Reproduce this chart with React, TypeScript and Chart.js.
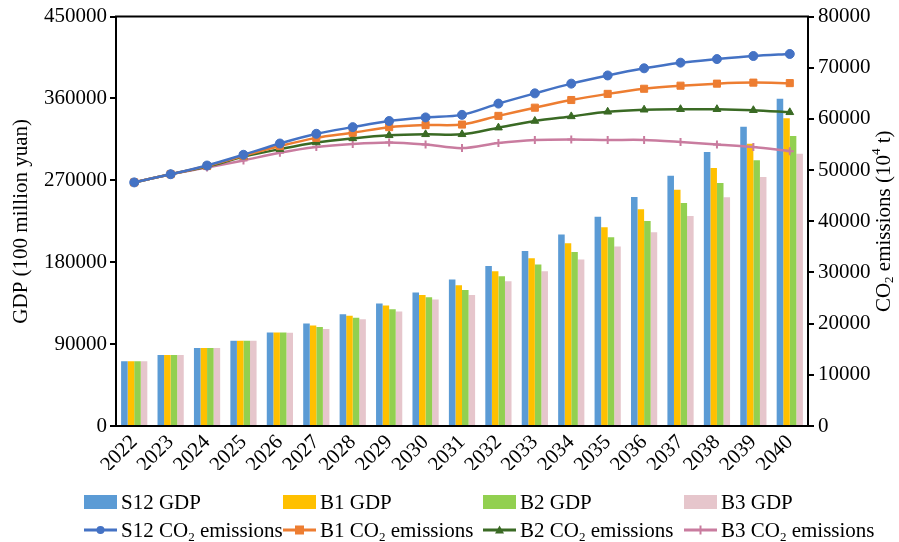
import React, { useEffect, useRef } from "react";
import { Chart, registerables } from "chart.js";

Chart.register(...registerables);

const years = [
  "2022", "2023", "2024", "2025", "2026", "2027", "2028", "2029", "2030", "2031",
  "2032", "2033", "2034", "2035", "2036", "2037", "2038", "2039", "2040",
];

// GDP (100 million yuan)
const gdpS12 = [71300, 78000, 85600, 93600, 102800, 112700, 122900, 134600, 146700, 161000, 176000, 192400, 210400, 230100, 251700, 275100, 301100, 328900, 359600];
const gdpB1 = [71300, 78000, 85600, 93600, 102800, 110500, 121100, 132400, 144100, 154800, 170100, 184400, 200900, 218400, 238200, 259800, 283500, 310300, 338400];
const gdpB2 = [71300, 78000, 85600, 93600, 102800, 108700, 118900, 128400, 141600, 149600, 164600, 177400, 191300, 207400, 225400, 245100, 267100, 292000, 318700];
const gdpB3 = [71300, 78000, 85600, 93600, 102600, 106500, 117400, 125800, 139000, 144100, 159100, 170100, 182900, 197200, 212900, 230900, 251300, 273700, 299300];

// CO2 emissions (10^4 t)
const co2S12 = [47600, 49200, 50900, 53000, 55200, 57100, 58400, 59600, 60300, 60800, 63000, 65000, 66900, 68500, 69900, 71000, 71700, 72300, 72700];
const co2B1 = [47600, 49200, 50800, 52800, 54700, 56300, 57300, 58400, 58800, 58900, 60600, 62200, 63700, 64900, 65900, 66500, 66900, 67100, 67000];
const co2B2 = [47600, 49200, 50700, 52600, 54100, 55400, 56200, 56800, 57000, 57000, 58300, 59600, 60500, 61400, 61800, 61900, 61900, 61700, 61300];
const co2B3 = [47600, 49200, 50500, 51900, 53400, 54500, 55100, 55400, 55000, 54300, 55300, 55900, 56000, 55900, 55900, 55500, 55000, 54500, 53700];

const gdpTicks = [0, 90000, 180000, 270000, 360000, 450000];
const co2Ticks = [0, 10000, 20000, 30000, 40000, 50000, 60000, 70000, 80000];

const FONT = "'Liberation Serif', 'Times New Roman', serif";

const BAR_COLORS = ["#5B9BD5", "#FFC000", "#92D050", "#E6C6CC"];
const LINE_COLORS = ["#4472C4", "#ED7D31", "#3A6A24", "#C97C9F"];

// Closes the frame along the top of the plot and writes the right-hand axis title.
const framePlugin = {
  id: "frame",
  afterDraw(chart: any) {
    const { ctx, chartArea } = chart;
    ctx.save();
    ctx.strokeStyle = "#000";
    ctx.lineWidth = 2;
    ctx.beginPath();
    ctx.moveTo(chartArea.left - 1, chartArea.top);
    ctx.lineTo(chartArea.right + 1, chartArea.top);
    ctx.stroke();

    // "CO2 emissions (10^4 t)" rotated, read from bottom to top
    const cx = 884;
    const cy = (chartArea.top + chartArea.bottom) / 2;
    ctx.translate(cx, cy);
    ctx.rotate(-Math.PI / 2);
    ctx.fillStyle = "#000";
    ctx.textBaseline = "middle";
    const big = `21px ${FONT}`;
    const small = `13px ${FONT}`;
    const parts: [string, string, number][] = [
      ["CO", big, 0],
      ["2", small, 6],
      [" emissions (10", big, 0],
      ["4", small, -7],
      [" t)", big, 0],
    ];
    let total = 0;
    for (const [t, f] of parts) {
      ctx.font = f;
      total += ctx.measureText(t).width;
    }
    let x = -total / 2;
    for (const [t, f, dy] of parts) {
      ctx.font = f;
      ctx.fillText(t, x, dy);
      x += ctx.measureText(t).width;
    }
    ctx.restore();
  },
};

function LegendSwatch({ kind, color }: { kind: string; color: string }) {
  if (kind === "bar") {
    return (
      <svg width="33" height="14" style={{ display: "block" }}>
        <rect x="0" y="0" width="33" height="14" fill={color} />
      </svg>
    );
  }
  let marker: React.ReactNode = null;
  if (kind === "circle") marker = <circle cx="16.5" cy="7" r="4" fill={color} />;
  if (kind === "rect") marker = <rect x="12" y="2.5" width="9" height="9" fill={color} />;
  if (kind === "triangle") marker = <polygon points="16.5,2.5 21,10.5 12,10.5" fill={color} />;
  if (kind === "cross")
    marker = (
      <g stroke={color} strokeWidth="2">
        <line x1="16.5" y1="2.5" x2="16.5" y2="11.5" />
      </g>
    );
  return (
    <svg width="33" height="14" style={{ display: "block" }}>
      <line x1="0" y1="7" x2="33" y2="7" stroke={color} strokeWidth="3" />
      {marker}
    </svg>
  );
}

const barLegend = [
  { name: "S12", color: BAR_COLORS[0] },
  { name: "B1", color: BAR_COLORS[1] },
  { name: "B2", color: BAR_COLORS[2] },
  { name: "B3", color: BAR_COLORS[3] },
];
const lineLegend = [
  { name: "S12", color: LINE_COLORS[0], kind: "circle" },
  { name: "B1", color: LINE_COLORS[1], kind: "rect" },
  { name: "B2", color: LINE_COLORS[2], kind: "triangle" },
  { name: "B3", color: LINE_COLORS[3], kind: "cross" },
];

const plain = (v: any) => String(v);

export default function App() {
  const canvasRef = useRef<HTMLCanvasElement | null>(null);

  useEffect(() => {
    const canvas = canvasRef.current;
    if (!canvas) return;

    const barSet = (label: string, data: number[], color: string) => ({
      type: "bar" as const,
      label,
      data,
      backgroundColor: color,
      borderWidth: 0,
      yAxisID: "y",
      order: 2,
      categoryPercentage: 0.72,
      barPercentage: 1.0,
    });
    const lineSet = (label: string, data: number[], color: string, style: string, radius: number) => ({
      type: "line" as const,
      label,
      data,
      borderColor: color,
      backgroundColor: color,
      borderWidth: 2.5,
      pointStyle: style,
      pointRadius: radius,
      pointBorderWidth: style === "cross" ? 2 : 1,
      pointBorderColor: color,
      pointBackgroundColor: color,
      tension: 0.3,
      fill: false,
      yAxisID: "y1",
      order: 1,
    });

    const chart = new Chart(canvas, {
      type: "bar",
      data: {
        labels: years,
        datasets: [
          lineSet("S12 CO₂ emissions", co2S12, LINE_COLORS[0], "circle", 4.5),
          lineSet("B1 CO₂ emissions", co2B1, LINE_COLORS[1], "rect", 5),
          lineSet("B2 CO₂ emissions", co2B2, LINE_COLORS[2], "triangle", 4.5),
          lineSet("B3 CO₂ emissions", co2B3, LINE_COLORS[3], "cross", 4),
          barSet("S12 GDP", gdpS12, BAR_COLORS[0]),
          barSet("B1 GDP", gdpB1, BAR_COLORS[1]),
          barSet("B2 GDP", gdpB2, BAR_COLORS[2]),
          barSet("B3 GDP", gdpB3, BAR_COLORS[3]),
        ] as any,
      },
      options: {
        responsive: false,
        animation: false,
        devicePixelRatio: 1,
        layout: { padding: { top: 16, left: 0, right: 0, bottom: 72 } },
        plugins: {
          legend: { display: false },
          tooltip: { enabled: false },
        },
        scales: {
          x: {
            type: "category",
            offset: true,
            grid: { display: false, drawTicks: false },
            border: { display: true, color: "#000", width: 2 },
            ticks: {
              color: "#000",
              font: { family: FONT, size: 21 },
              minRotation: 45,
              maxRotation: 45,
              autoSkip: false,
              padding: 4,
            },
            afterFit: (s: any) => {
              s.height = 44;
            },
          },
          y: {
            type: "linear",
            position: "left",
            min: 0,
            max: 450000,
            afterBuildTicks: (s: any) => {
              s.ticks = gdpTicks.map((v) => ({ value: v }));
            },
            grid: { drawOnChartArea: false, drawTicks: true, tickLength: 6, color: "#000", lineWidth: 2 },
            border: { display: true, color: "#000", width: 2 },
            ticks: {
              color: "#000",
              font: { family: FONT, size: 21 },
              padding: 3,
              callback: plain,
            },
            title: {
              display: true,
              text: "GDP (100 million yuan)",
              color: "#000",
              font: { family: FONT, size: 21 },
              padding: { top: 9, bottom: 0 },
            },
            afterFit: (s: any) => {
              s.width = 116;
            },
          },
          y1: {
            type: "linear",
            position: "right",
            min: 0,
            max: 80000,
            afterBuildTicks: (s: any) => {
              s.ticks = co2Ticks.map((v) => ({ value: v }));
            },
            grid: { drawOnChartArea: false, drawTicks: true, tickLength: 6, color: "#000", lineWidth: 2 },
            border: { display: true, color: "#000", width: 2 },
            ticks: {
              color: "#000",
              font: { family: FONT, size: 21 },
              padding: 4,
              callback: plain,
            },
            afterFit: (s: any) => {
              s.width = 91;
            },
          },
        },
      } as any,
      plugins: [framePlugin],
    });

    return () => chart.destroy();
  }, []);

  const rowStyle: React.CSSProperties = {
    position: "absolute",
    left: 84,
    display: "grid",
    gridTemplateColumns: "199px 200px 201px 200px",
    alignItems: "center",
    height: 26,
  };
  const itemStyle: React.CSSProperties = {
    display: "flex",
    alignItems: "center",
    gap: 4,
    whiteSpace: "nowrap",
  };

  return (
    <div
      style={{
        position: "absolute",
        left: 0,
        top: 0,
        width: 899,
        height: 542,
        background: "#fff",
        fontFamily: FONT,
        fontSize: 21,
        color: "#000",
        overflow: "hidden",
      }}
    >
      <canvas ref={canvasRef} width={899} height={542} style={{ display: "block" }} />
      <div style={{ ...rowStyle, top: 489 }}>
        {barLegend.map((d) => (
          <div key={d.name} style={itemStyle}>
            <LegendSwatch kind="bar" color={d.color} />
            <span>{d.name} GDP</span>
          </div>
        ))}
      </div>
      <div style={{ ...rowStyle, top: 517 }}>
        {lineLegend.map((d) => (
          <div key={d.name} style={itemStyle}>
            <LegendSwatch kind={d.kind} color={d.color} />
            <span>
              {d.name} CO<sub style={{ fontSize: 13, verticalAlign: "-4px", lineHeight: 0 }}>2</sub> emissions
            </span>
          </div>
        ))}
      </div>
    </div>
  );
}
